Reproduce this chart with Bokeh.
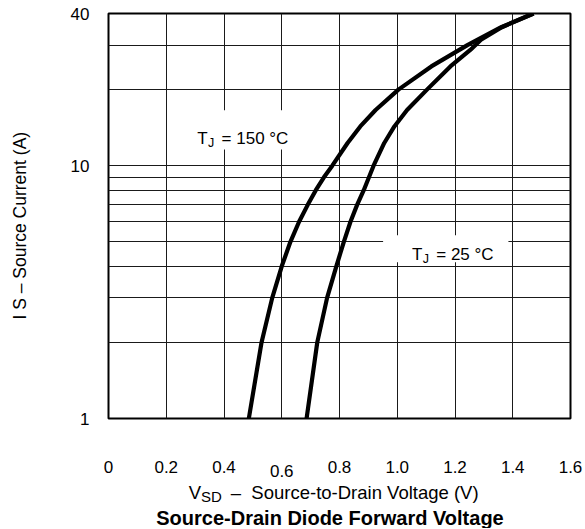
from bokeh.plotting import figure
from bokeh.layouts import column
from bokeh.models import FixedTicker, Range1d, Label, BoxAnnotation, PrintfTickFormatter
from bokeh.embed import file_html
from bokeh.resources import INLINE

# ---- data ----
current_150 = [1, 2, 3, 4, 5, 6, 7, 8, 9, 10, 12.3, 14.3, 16.6, 20, 24.7, 30, 31.5, 35.3, 40]
voltage_150 = [0.486, 0.530, 0.567, 0.600, 0.630, 0.660, 0.690, 0.718, 0.746, 0.775,
               0.828, 0.872, 0.925, 1.004, 1.118, 1.243, 1.277, 1.360, 1.472]
current_25 = [1, 2, 3, 4, 5, 6, 7, 8, 9, 10, 12.3, 14.3, 16.6, 20, 24.7, 28.7, 31.5, 35.3, 40]
voltage_25 = [0.686, 0.723, 0.757, 0.789, 0.815, 0.838, 0.861, 0.884, 0.902, 0.918,
              0.955, 0.990, 1.034, 1.103, 1.184, 1.253, 1.290, 1.362, 1.472]

x_ticks = [0, 0.2, 0.4, 0.6, 0.8, 1.0, 1.2, 1.4, 1.6]
x_tick_labels = ["0", "0.2", "0.4", "0.6", "0.8", "1.0", "1.2", "1.4", "1.6"]
y_ticks = [1, 10, 40]
y_grid = [1, 2, 3, 4, 5, 6, 7, 8, 9, 10, 20, 30, 40]

FONT = "Liberation Sans"
W = 585
LEFT, RIGHT = 108, 15
PH = 432
x_range = Range1d(0, 1.6)

# ---- main chart ----
p = figure(width=W, height=PH, y_axis_type="log", title=None,
           x_range=x_range, y_range=Range1d(1, 40),
           output_backend="svg", toolbar_location=None,
           min_border_left=LEFT, min_border_right=RIGHT, min_border_top=13, min_border_bottom=14)

p.outline_line_color = "black"
p.outline_line_width = 2
p.background_fill_color = "white"
p.border_fill_color = "white"

p.xgrid.ticker = FixedTicker(ticks=x_ticks)
p.ygrid.ticker = FixedTicker(ticks=y_grid)
for g in (p.xgrid, p.ygrid):
    g.grid_line_color = "#1a1a1a"
    g.grid_line_width = 1
    g.grid_line_alpha = 1

p.xaxis.visible = False

ya = p.yaxis[0]
ya.ticker = FixedTicker(ticks=y_ticks)
ya.formatter = PrintfTickFormatter(format="%d")
ya.axis_line_color = None
ya.major_tick_line_color = None
ya.minor_tick_line_color = None
ya.major_tick_out = 0
ya.major_tick_in = 0
ya.minor_tick_out = 0
ya.major_label_standoff = 19
ya.major_label_text_font = FONT
ya.major_label_text_font_size = "17px"
ya.major_label_text_color = "black"
ya.axis_label = "I S \u2013 Source Current (A)\u00a0\u00a0\u00a0\u00a0"
ya.axis_label_text_font = FONT
ya.axis_label_text_font_size = "17.5px"
ya.axis_label_text_font_style = "normal"
ya.axis_label_text_color = "black"
ya.axis_label_standoff = 38

p.line(voltage_150, current_150, line_color="black", line_width=4.2, line_join="round")
p.line(voltage_25, current_25, line_color="black", line_width=4.2, line_join="round")

# white backgrounds behind the in-plot labels
p.add_layout(BoxAnnotation(left=0.29, right=0.658, bottom=11.59, top=16.58,
                           fill_color="white", fill_alpha=1, line_color=None))
p.add_layout(BoxAnnotation(left=0.951, right=1.385, bottom=4.15, top=5.31,
                           fill_color="white", fill_alpha=1, line_color=None))


def tj_label(x, y, rest):
    common = dict(x=x, y=y, text_font=FONT, text_color="black",
                  text_baseline="alphabetic", text_align="left")
    p.add_layout(Label(text="T", text_font_size="17px", **common))
    p.add_layout(Label(text="J", text_font_size="12.5px", x_offset=10.6, y_offset=-4.5, **common))
    p.add_layout(Label(text="\u00a0" + rest, text_font_size="17px", x_offset=19.5, **common))


tj_label(0.3077, 12.82, "= 150 \u00b0C")
tj_label(1.0512, 4.467, "= 25 \u00b0C")

# ---- texts below the chart (tick labels, axis title, chart title) ----
# same horizontal scale as the chart, but the frame spans the whole width
px_per_unit = (W - LEFT - RIGHT) / (x_range.end - x_range.start)
qx = Range1d(x_range.start - LEFT / px_per_unit, x_range.end + RIGHT / px_per_unit)
QH = 96
q = figure(width=W, height=QH, title=None, x_range=qx, y_range=Range1d(0, QH),
           output_backend="svg", toolbar_location=None,
           x_axis_location=None, y_axis_location=None,
           min_border_left=0, min_border_right=0, min_border_top=0, min_border_bottom=0)
q.outline_line_color = None
q.background_fill_color = "white"
q.border_fill_color = "white"
q.grid.visible = False

for fig in (p, q):
    if "frame_align" in fig.properties():
        fig.frame_align = False

base = QH + PH  # page y of q's bottom edge
for v, t in zip(x_ticks, x_tick_labels):
    ybase = base - (470.7 if t == "0.6" else 466.0)
    q.add_layout(Label(x=v, y=ybase, text=t, text_font=FONT, text_font_size="17px",
                       text_color="black", text_align="center", text_baseline="alphabetic"))

xt = dict(x=0, text_font=FONT, text_color="black", text_baseline="alphabetic",
          text_align="left")
q.add_layout(Label(text="V", y=base - 492.3, text_font_size="18.5px", x_offset=80.3, **xt))
q.add_layout(Label(text="SD", y=base - 496.0, text_font_size="15px", x_offset=92.6, **xt))
q.add_layout(Label(text="\u00a0\u00a0\u2013\u00a0\u00a0Source-to-Drain Voltage (V)",
                   y=base - 492.3, text_font_size="18.5px", x_offset=112.0, **xt))

q.add_layout(Label(x=0.8, y=base - 517.0, text="Source-Drain Diode Forward Voltage",
                   text_font=FONT, text_font_size="20px", text_font_style="bold",
                   text_color="black", text_align="center", text_baseline="alphabetic",
                   x_offset=-9.5))

layout = column(p, q, spacing=0)
open("out.html", "w").write(file_html(layout, INLINE))
